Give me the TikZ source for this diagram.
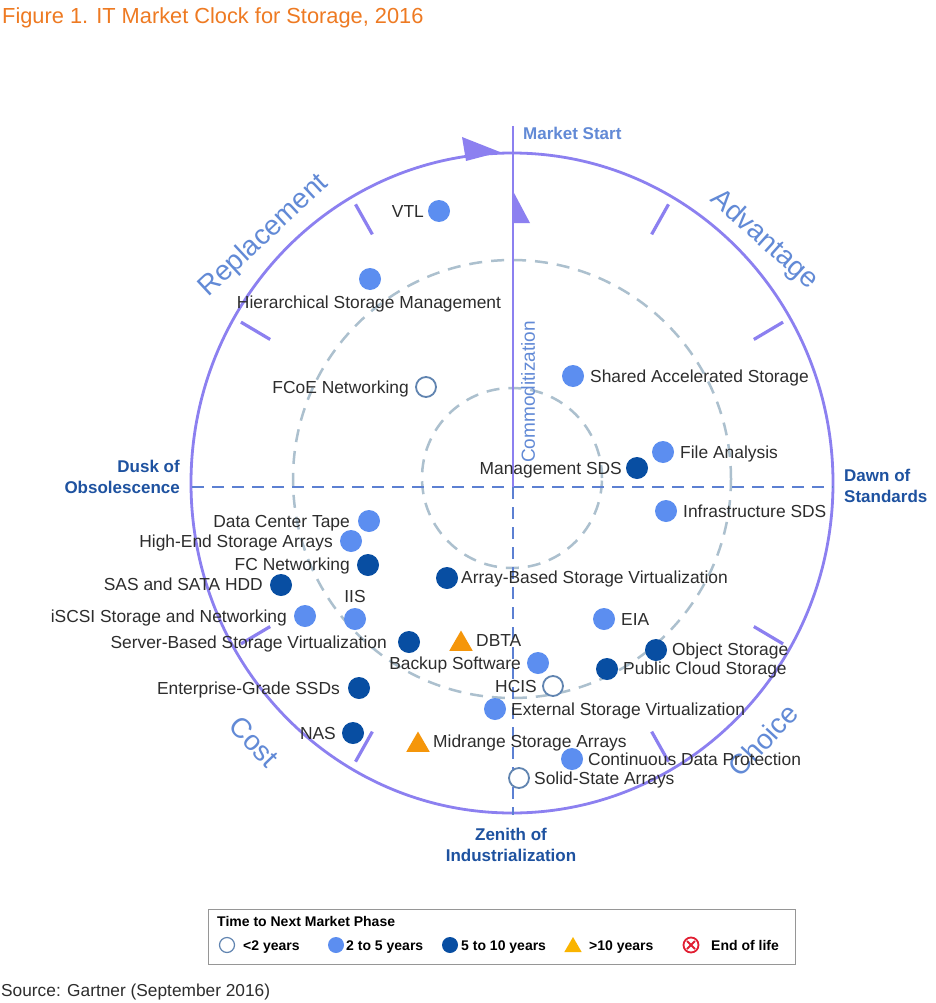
\documentclass[tikz,border=0pt]{standalone}
\usepackage{fontspec}
\setmainfont{Liberation Sans}
\usetikzlibrary{calc,shapes.geometric}
\definecolor{ring}{RGB}{140,128,240}
\definecolor{phase}{RGB}{98,138,214}
\definecolor{edgeblue}{RGB}{30,82,160}
\definecolor{axisblue}{RGB}{92,128,210}
\definecolor{ghost}{RGB}{172,192,206}
\definecolor{lightb}{RGB}{92,142,240}
\definecolor{darkb}{RGB}{8,78,162}
\definecolor{openc}{RGB}{96,132,176}
\definecolor{ambar}{RGB}{245,150,10}
\definecolor{ttl}{RGB}{238,122,34}
\definecolor{txtc}{RGB}{45,45,45}
\definecolor{eol}{RGB}{225,30,50}
\begin{document}
\begin{tikzpicture}[x=1pt,y=-1pt,
  lightdot/.style={circle,fill=lightb,minimum size=22pt,inner sep=0pt},
  darkdot/.style={circle,fill=darkb,minimum size=22pt,inner sep=0pt},
  opendot/.style={circle,draw=openc,line width=1.8pt,fill=white,minimum size=20pt,inner sep=0pt},
  tridot/.style={regular polygon,regular polygon sides=3,fill=ambar,minimum size=27pt,inner sep=0pt},
  lbl/.style={inner sep=0pt,text=txtc,font=\fontsize{17.4}{20}\selectfont,text height=12.4pt,text depth=0pt},
  phasetxt/.style={inner sep=0pt,text=phase,font=\fontsize{28}{32}\selectfont},
  edgetxt/.style={inner sep=0pt,text=edgeblue,font=\fontsize{17}{21}\selectfont\bfseries},
  tickmark/.style={draw=ring,line width=3.2pt},
  legtxt/.style={inner sep=0pt,text=black,font=\fontsize{14}{16}\selectfont\bfseries,anchor=west,text height=10pt,text depth=0pt},
]
\useasboundingbox (0,0) rectangle (935,1003);
\fill[white] (0,0) rectangle (935,1003);

% title and source
\node[inner sep=0pt,anchor=west,text=ttl,font=\fontsize{21.8}{25}\selectfont] (title) at (2,18) {Figure 1. IT Market Clock for Storage, 2016};
\node[inner sep=0pt,anchor=west,text=txtc,font=\fontsize{17.3}{20}\selectfont] (source) at (1,992) {Source: Gartner (September 2016)};

% inner dashed rings
\coordinate (c) at (512,483);
\draw[ghost,line width=2.5pt,dash pattern=on 13pt off 9pt] (512,478) circle[radius=90pt];
\draw[ghost,line width=2.5pt,dash pattern=on 13pt off 9pt] (512,479) circle[radius=219pt];

% outer ring
\draw[ring,line width=2.8pt] (c) ellipse[x radius=321pt,y radius=330pt];
\fill[ring] (500,152) -- (462,137) -- (466,161) -- cycle;

% ticks
\foreach \a in {30,60,120,150,210,240,300,330}{
  \draw[tickmark] ($(c)+({0.87*321*cos(\a)},{-0.87*330*sin(\a)})$) -- ($(c)+({0.975*321*cos(\a)},{-0.975*330*sin(\a)})$);
}

% axes
\coordinate (west) at (192,487);
\coordinate (east) at (833,487);
\coordinate (top) at (513,126);
\coordinate (mid) at (513,487);
\coordinate (bottom) at (513,815);
\draw[axisblue,line width=2.6pt,dash pattern=on 12pt off 8pt] (west) -- (east);
\draw[axisblue,line width=2.6pt,dash pattern=on 12pt off 8pt] (mid) -- (bottom);
\draw[ring,line width=2.8pt] (top) -- (mid);
\fill[ring] (513,191) -- (530,223) -- (513,223) -- cycle;

% phase names
\node[phasetxt,rotate=43] (repl) at (264,236) {Replacement};
\node[phasetxt,rotate=-42] (adv) at (764,240) {Advantage};
\node[phasetxt,rotate=-46] (cost) at (254,742) {Cost};
\node[phasetxt,rotate=47] (choice) at (763,740) {Choice};
\node[inner sep=0pt,text=phase,font=\fontsize{19}{22}\selectfont,rotate=90] (commod) at (528,392) {Commoditization};
\node[inner sep=0pt,anchor=west,text=phase,font=\fontsize{17}{20}\selectfont\bfseries] (mstart) at (523,133) {Market Start};
\node[edgetxt,align=right,anchor=east] (dusk) at (180,477) {Dusk of\\Obsolescence};
\node[edgetxt,align=left,anchor=west] (dawn) at (844,486) {Dawn of\\Standards};
\node[edgetxt,align=center] (zenith) at (511,845) {Zenith of\\Industrialization};

% technologies
\node[lightdot] (vtl) at (439,211) {};
\node[lbl,anchor=east] at (424,211) {VTL};
\node[lightdot] (hsm) at (370,279) {};
\node[lbl] at (369,302) {Hierarchical Storage Management};
\node[opendot] (fcoe) at (426,387) {};
\node[lbl,anchor=east] at (409,387) {FCoE Networking};
\node[lightdot] (sas) at (573,376) {};
\node[lbl,anchor=west] at (590,376) {Shared Accelerated Storage};
\node[lightdot] (fa) at (663,452) {};
\node[lbl,anchor=west] at (680,452) {File Analysis};
\node[darkdot] (msds) at (637,468) {};
\node[lbl,anchor=east] at (622,468) {Management SDS};
\node[lightdot] (isds) at (666,511) {};
\node[lbl,anchor=west] at (683,511) {Infrastructure SDS};
\node[lightdot] (dct) at (369,521) {};
\node[lbl,anchor=east] at (350,521) {Data Center Tape};
\node[lightdot] (hesa) at (351,541) {};
\node[lbl,anchor=east] at (333,541) {High-End Storage Arrays};
\node[darkdot] (fcn) at (368,565) {};
\node[lbl,anchor=east] at (350,564) {FC Networking};
\node[darkdot] (hdd) at (281,585) {};
\node[lbl,anchor=east] at (263,584) {SAS and SATA HDD};
\node[lightdot] (iis) at (355,619) {};
\node[lbl] at (355,596) {IIS};
\node[lightdot] (iscsi) at (305,616) {};
\node[lbl,anchor=east] at (287,616) {iSCSI Storage and Networking};
\node[darkdot] (sbsv) at (409,642) {};
\node[lbl,anchor=east] at (387,642) {Server-Based Storage Virtualization};
\node[darkdot] (absv) at (447,578) {};
\node[lbl,anchor=west] at (461,577) {Array-Based Storage Virtualization};
\node[tridot] (dbta) at (461,644) {};
\node[lbl,anchor=west] at (476,640) {DBTA};
\node[lightdot] (bus) at (538,663) {};
\node[lbl,anchor=east] at (521,663) {Backup Software};
\node[opendot] (hcis) at (553,686) {};
\node[lbl,anchor=east] at (537,686) {HCIS};
\node[lightdot] (eia) at (604,619) {};
\node[lbl,anchor=west] at (621,619) {EIA};
\node[darkdot] (obj) at (656,650) {};
\node[lbl,anchor=west] at (672,649) {Object Storage};
\node[darkdot] (pcs) at (607,669) {};
\node[lbl,anchor=west] at (623,668) {Public Cloud Storage};
\node[lightdot] (esv) at (495,709) {};
\node[lbl,anchor=west] at (511,709) {External Storage Virtualization};
\node[darkdot] (egs) at (359,688) {};
\node[lbl,anchor=east] at (340,688) {Enterprise-Grade SSDs};
\node[darkdot] (nas) at (353,733) {};
\node[lbl,anchor=east] at (336,733) {NAS};
\node[tridot] (msa) at (418,745) {};
\node[lbl,anchor=west] at (433,741) {Midrange Storage Arrays};
\node[lightdot] (cdp) at (572,759) {};
\node[lbl,anchor=west] at (588,759) {Continuous Data Protection};
\node[opendot] (ssa) at (519,778) {};
\node[lbl,anchor=west] at (534,778) {Solid-State Arrays};

% legend
\node[draw={rgb,255:red,150;green,150;blue,150},line width=1pt,minimum width=587pt,minimum height=55pt,inner sep=0pt,anchor=north west] (legend) at (208,909) {};
\node[legtxt] (legtitle) at (217,921) {Time to Next Market Phase};
\node[circle,draw=openc,line width=1.2pt,fill=white,minimum size=15pt,inner sep=0pt] (lg1) at (227,945) {};
\node[legtxt] at (243,945) {<2 years};
\node[circle,fill=lightb,minimum size=16pt,inner sep=0pt] (lg2) at (336,945) {};
\node[legtxt] at (346,945) {2 to 5 years};
\node[circle,fill=darkb,minimum size=16pt,inner sep=0pt] (lg3) at (450,945) {};
\node[legtxt] at (461,945) {5 to 10 years};
\node[regular polygon,regular polygon sides=3,fill={rgb,255:red,250;green,180;blue,0},minimum size=20pt,inner sep=0pt] (lg4) at (573,947) {};
\node[legtxt] at (589,945) {>10 years};
\node[circle,draw=eol,line width=1.8pt,minimum size=15pt,inner sep=0pt] (lg5) at (691,945) {};
\draw[eol,line width=1.8pt] ($(lg5.center)+(-4,-4)$) -- ($(lg5.center)+(4,4)$);
\draw[eol,line width=1.8pt] ($(lg5.center)+(-4,4)$) -- ($(lg5.center)+(4,-4)$);
\node[legtxt] at (711,945) {End of life};
\end{tikzpicture}
\end{document}
